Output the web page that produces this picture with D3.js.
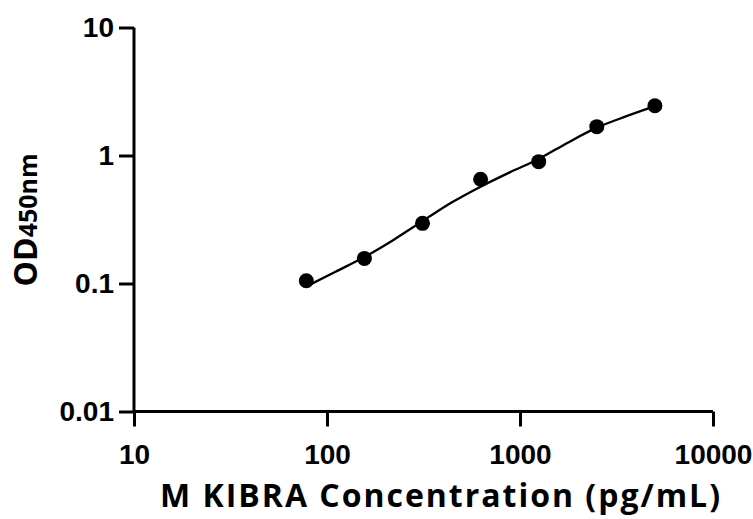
<!DOCTYPE html>
<html>
<head>
<meta charset="utf-8">
<script src="https://cdn.jsdelivr.net/npm/d3@7"></script>
<style>
  body { margin: 0; background: #fff; }
  svg { display: block; }
</style>
</head>
<body>
<div id="chart"></div>
<script>
// standards (pg/mL) and measured OD450
const conc = [78.125, 156.25, 312.5, 625, 1250, 2500, 5000];
const od = [0.105, 0.157, 0.295, 0.652, 0.895, 1.68, 2.45];

// fitted curve
const curveConc = [78.125, 110, 156.25, 221, 312.5, 442, 625, 884, 1250, 1768, 2500, 3536, 5000];
const curveOd = [0.0948, 0.123, 0.161, 0.219, 0.307, 0.429, 0.571, 0.738, 0.94, 1.26, 1.65, 2.02, 2.43];

const xTicks = [10, 100, 1000, 10000];
const yTicks = [0.01, 0.1, 1, 10];

const width = 753, height = 519;
const margin = {top: 27.5, right: 40, bottom: 107.5, left: 134};

const svg = d3.select('#chart').append('svg')
  .attr('width', width)
  .attr('height', height);

const x = d3.scaleLog().domain([10, 10000]).range([margin.left, width - margin.right]);
const y = d3.scaleLog().domain([0.01, 10]).range([height - margin.bottom, margin.top]);

const xAxis = d3.axisBottom(x).tickValues(xTicks).tickFormat(d3.format('d')).tickSize(15).tickPadding(18);
const yAxis = d3.axisLeft(y).tickValues(yTicks).tickFormat(d => String(d)).tickSize(15).tickPadding(5);

const gx = svg.append('g')
  .attr('transform', `translate(0, ${height - margin.bottom})`)
  .call(xAxis);
const gy = svg.append('g')
  .attr('transform', `translate(${margin.left}, 0)`)
  .call(yAxis);

[gx, gy].forEach(g => {
  g.attr('font-family', 'Liberation Sans, Arial, sans-serif')
    .attr('font-size', 28)
    .attr('font-weight', 'bold');
  g.select('.domain').attr('stroke', '#000').attr('stroke-width', 3);
  g.selectAll('.tick line').attr('stroke', '#000').attr('stroke-width', 3);
  g.selectAll('.tick text').attr('fill', '#000');
});
// GraphPad style: no outer ticks on the axis ends
gx.select('.domain').attr('d', `M${x(10)},0H${x(10000)}`);
gy.select('.domain').attr('d', `M0,${y(10)}V${y(0.01)}`);

// fitted line
const line = d3.line()
  .x((d, i) => x(curveConc[i]))
  .y(d => y(d))
  .curve(d3.curveMonotoneX);
svg.append('path')
  .datum(curveOd)
  .attr('fill', 'none')
  .attr('stroke', '#000')
  .attr('stroke-width', 2.3)
  .attr('d', line);

svg.selectAll('circle')
  .data(conc)
  .join('circle')
    .attr('cx', d => x(d))
    .attr('cy', (d, i) => y(od[i]))
    .attr('r', 7.5)
    .attr('fill', '#000');

svg.append('text')
  .attr('x', 440)
  .attr('y', 507)
  .attr('text-anchor', 'middle')
  .attr('font-family', 'Open Sans, sans-serif')
  .attr('font-weight', 'bold')
  .attr('font-size', 32)
  .attr('textLength', 560)
  .attr('lengthAdjust', 'spacing')
  .text('M KIBRA Concentration (pg/mL)');

const yl = svg.append('text')
  .attr('transform', 'translate(37, 220) rotate(-90)')
  .attr('text-anchor', 'middle')
  .attr('font-family', 'Open Sans, sans-serif')
  .attr('font-weight', 'bold');
yl.append('tspan').attr('font-size', 32).text('OD');
yl.append('tspan').attr('font-size', 25).text('450nm');
</script>
</body>
</html>
